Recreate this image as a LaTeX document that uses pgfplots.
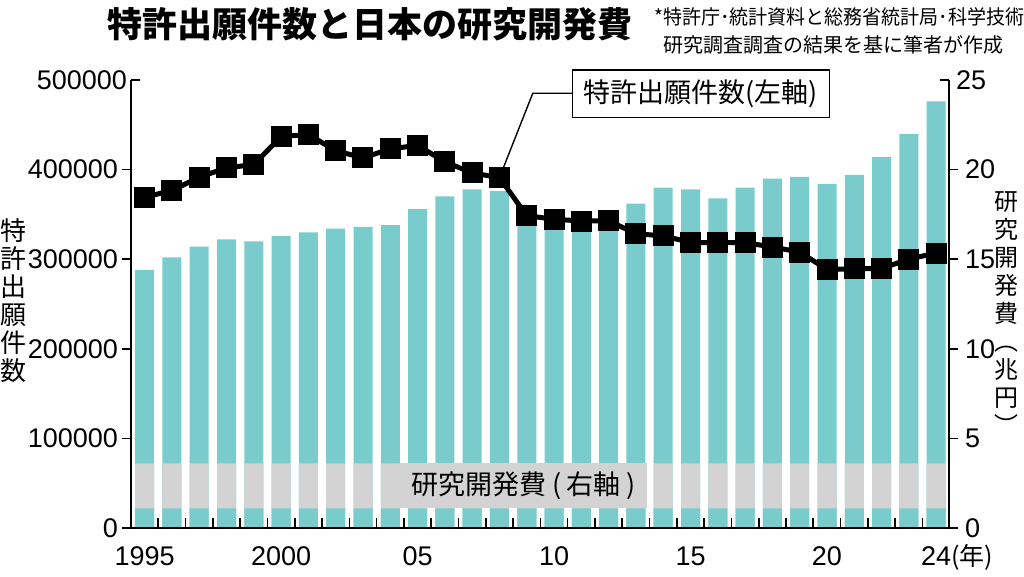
\documentclass[border=0pt]{standalone}
\usepackage{pgfplots}
\usepackage{pgfplotstable}
\pgfplotsset{compat=1.18}
\usepackage{fontspec}
\setmainfont{Liberation Sans}
\newfontfamily\jp{Noto Sans CJK JP}
\definecolor{barteal}{RGB}{122,204,204}
\definecolor{bandgray}{RGB}{211,211,211}

\pgfplotstableread{
year rd patents
1995 14.4 369214
1996 15.1 376615
1997 15.7 391572
1998 16.1 401932
1999 16.0 405655
2000 16.3 436865
2001 16.5 439175
2002 16.7 421044
2003 16.8 413092
2004 16.9 423081
2005 17.8 427078
2006 18.5 408674
2007 18.9 396291
2008 18.8 391002
2009 17.2 348596
2010 17.1 344598
2011 17.4 342610
2012 17.3 342796
2013 18.1 328436
2014 19.0 325989
2015 18.9 318721
2016 18.4 318381
2017 19.0 318479
2018 19.5 313567
2019 19.6 307969
2020 19.2 288472
2021 19.7 289200
2022 20.7 289530
2023 22.0 300133
2024 23.8 306855
}\datatable

\begin{document}
\begin{tikzpicture}
\pgfplotsset{
  base/.style={
    scale only axis, width=409pt, height=224pt,
    at={(65.5pt,24.5pt)}, anchor=south west,
    xmin=1994.5, xmax=2024.47,
    font=\fontsize{13.5}{16}\selectfont,
    axis line style={line width=0.8pt},
    tick style={line width=0.8pt, black},
    clip mode=individual,
  }
}
% bars (right axis)
\begin{axis}[base, ymin=0, ymax=25, axis x line=none, axis y line*=right,
  tick align=outside, major tick length=4.5pt,
  ytick={0,5,10,15,20}, yticklabels={0,5,10,15,20},
  extra y ticks={25}, extra y tick labels={25},
  extra y tick style={major tick length=0pt},
  yticklabel style={anchor=west},
]
\addplot[ybar, bar width=9.5pt, bar shift=0pt, fill=barteal, draw=none] table[x=year,y=rd]{\datatable};
\addplot[ybar, bar width=9.5pt, bar shift=0pt, fill=bandgray, draw=none] table[x=year,y expr=3.61]{\datatable};
\addplot[ybar, bar width=9.5pt, bar shift=0pt, fill=barteal, draw=none] table[x=year,y expr=1.10]{\datatable};
\node[fill=bandgray, minimum width=124pt, minimum height=22.5pt, inner sep=0pt,
  font=\jp\fontsize{13.5}{16}\selectfont] at (axis cs:2008.87,2.355) {研究開発費 (\hspace{0.2em}右軸\hspace{0.2em})};
\draw[line width=0.8pt] (axis description cs:1,1) -- ([xshift=-4.5pt]axis description cs:1,1);
\end{axis}
% x axis
\begin{axis}[base, ymin=0, ymax=25, axis x line*=bottom, axis y line=none,
  tick align=inside,
  xtick={1995,2000,2005,2010,2015,2020,2024},
  xticklabels={1995,2000,05,10,15,20,24\rlap{\jp\fontsize{12.5}{14}\selectfont(年)}},
  major tick length=0pt,
  minor xtick={1995.5,1996.5,...,2023.5},
  minor tick length=5pt,
  xticklabel style={anchor=base, yshift=-19pt},
]
\end{axis}
% line (left axis)
\begin{axis}[base, ymin=0, ymax=500000, axis x line=none, axis y line*=left,
  tick align=outside, major tick length=4.5pt, scaled y ticks=false,
  ytick={0,100000,200000,300000,400000},
  yticklabels={0,100000,200000,300000,400000},
  extra y ticks={500000}, extra y tick labels={500000},
  extra y tick style={major tick length=0pt},
  yticklabel style={anchor=east, xshift=1.5pt},
]
\draw[line width=0.7pt] (axis cs:2008,391002) -- (axis cs:2009.22,485156) -- (axis cs:2010.68,485156);
\addplot[black, line width=2.5pt, mark=square*, mark size=5pt, mark options={solid, line width=0pt}] table[x=year,y=patents]{\datatable};
\node[draw, line width=0.6pt, fill=white, minimum width=128.3pt, minimum height=23.7pt, inner sep=0pt,
  font=\jp\fontsize{13.5}{16}\selectfont] at (axis cs:2015.38,484800) {特許出願件数(左軸)};
\draw[line width=0.8pt] (axis description cs:0,1) -- ([xshift=4.5pt]axis description cs:0,1);
\end{axis}
% titles and labels
\node[font=\jp\bfseries\fontsize{17.5}{20}\selectfont] at (185pt,276.5pt) {特許出願件数と日本の研究開発費};
\node[anchor=west, inner sep=0pt, font=\jp\fontsize{10}{12}\selectfont] at (327pt,280.2pt) {\scalebox{0.95}[1]{*特許庁･統計資料と総務省統計局･科学技術}};
\node[anchor=west, inner sep=0pt, font=\jp\fontsize{10}{12}\selectfont] at (331.5pt,266pt) {研究調査調査の結果を基に筆者が作成};
\node[align=center, inner sep=0pt, font=\jp\fontsize{13}{14}\selectfont] at (7pt,138pt) {特\\許\\出\\願\\件\\数};
\node[align=center, inner sep=0pt, font=\jp\fontsize{12}{14}\selectfont] at (503pt,132pt) {研\\究\\開\\発\\費\\︵\\兆\\円\\︶};
\pgfresetboundingbox
\path[use as bounding box] (0,0) rectangle (512pt,288.5pt);
\end{tikzpicture}
\end{document}
